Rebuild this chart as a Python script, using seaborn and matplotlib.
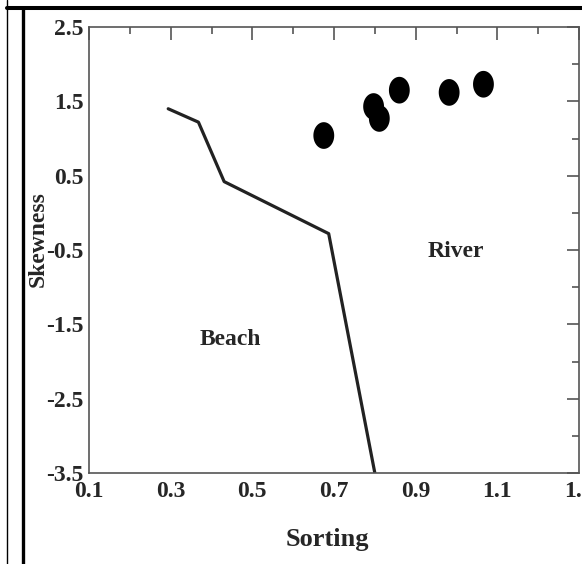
import numpy as np
import pandas as pd
import matplotlib
matplotlib.use("Agg")
import matplotlib.pyplot as plt
from matplotlib.lines import Line2D
from matplotlib.path import Path
from matplotlib.ticker import MultipleLocator
import seaborn as sns

# sample points (sorting vs skewness)
sorting = [0.675, 0.797, 0.811, 0.860, 0.982, 1.066]
skewness = [1.04, 1.43, 1.27, 1.65, 1.62, 1.73]

# beach / river discriminant line
line_sorting = [0.294, 0.368, 0.431, 0.687, 0.800]
line_skewness = [1.40, 1.22, 0.42, -0.28, -3.50]

region_labels = ["Beach", "River"]
region_x = [0.446, 0.998]
region_y = [-1.71, -0.515]

x_ticks = [0.1, 0.3, 0.5, 0.7, 0.9, 1.1, 1.3]
y_ticks = [2.5, 1.5, 0.5, -0.5, -1.5, -2.5, -3.5]

pts = pd.DataFrame({"Sorting": sorting, "Skewness": skewness})
bound = pd.DataFrame({"Sorting": line_sorting, "Skewness": line_skewness})

sns.set_style("white")
plt.rcParams["font.family"] = ["Liberation Serif", "DejaVu Serif"]
plt.rcParams["font.weight"] = "bold"

fig = plt.figure(figsize=(5.82, 5.64), dpi=100)
ax = fig.add_axes([89 / 582, 1 - 473 / 564, (579 - 89) / 582, (473 - 27) / 564])

# slightly tall ellipse marker, like the original
t = np.linspace(0, 2 * np.pi, 60)
ellipse = Path(np.column_stack([0.39 * np.cos(t), 0.5 * np.sin(t)]), closed=True)

sns.lineplot(data=bound, x="Sorting", y="Skewness", sort=False, estimator=None,
             color="#222222", linewidth=2.3, ax=ax)
sns.scatterplot(data=pts, x="Sorting", y="Skewness", marker=ellipse, s=370,
                color="black", edgecolor="none", ax=ax, zorder=3)

for lab, xx, yy in zip(region_labels, region_x, region_y):
    ax.text(xx, yy, lab, ha="center", va="center", fontsize=17, fontweight="bold")

ax.set_xlim(0.1, 1.3)
ax.set_ylim(-3.5, 2.5)
ax.set_xticks(x_ticks)
ax.set_yticks(y_ticks)
ax.xaxis.set_minor_locator(MultipleLocator(0.1))
ax.yaxis.set_minor_locator(MultipleLocator(0.5))
ax.set_xticklabels([f"{v:.1f}" for v in x_ticks])
ax.set_yticklabels([f"{v:.1f}" for v in y_ticks])
ax.tick_params(which="both", direction="in", top=True, right=True, color="#555555", width=1.2)
ax.tick_params(which="major", length=9, labelsize=17)
ax.tick_params(axis="x", which="major", pad=6)
ax.tick_params(axis="y", which="major", pad=4)
ax.tick_params(which="minor", length=5)
for s in ax.spines.values():
    s.set_color("#555555")
    s.set_linewidth(1.2)

ax.set_xlabel("Sorting", fontsize=19, fontweight="bold", va="center")
ax.set_ylabel("Skewness", fontsize=17, fontweight="bold", va="center")
ax.xaxis.set_label_coords(0.487, -0.150)
ax.yaxis.set_label_coords(-0.103, 0.525)

# table-cell borders around the figure
fig.add_artist(Line2D([7 / 582, 7 / 582], [0, 1], transform=fig.transFigure,
                      color="black", linewidth=1.0))
fig.add_artist(Line2D([7 / 582, 1], [1 - 8 / 564, 1 - 8 / 564], transform=fig.transFigure,
                      color="black", linewidth=2.9))
fig.add_artist(Line2D([22.5 / 582, 22.5 / 582], [0, 1 - 8 / 564], transform=fig.transFigure,
                      color="black", linewidth=2.4))

fig.savefig("out.png", dpi=100)
